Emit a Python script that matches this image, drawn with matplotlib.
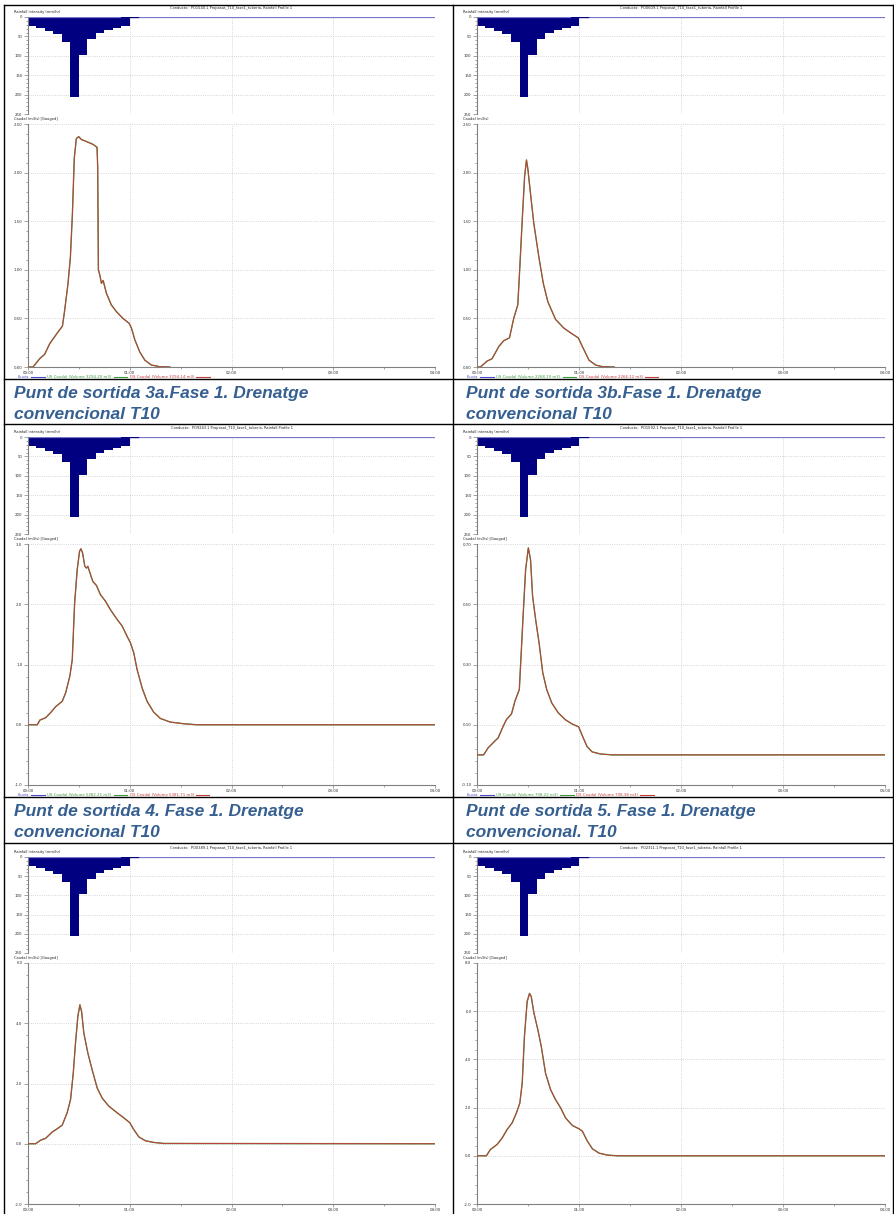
import matplotlib
matplotlib.use('Agg')
import matplotlib.pyplot as plt
from matplotlib.lines import Line2D
from matplotlib.ticker import MultipleLocator, FuncFormatter

W, H = 894, 1214

# rainfall profile (same storm in every panel), 5 minute blocks
rain_t = [0, 5, 10, 15, 20, 25, 30, 35, 40, 45, 50, 55]
rain_i = [23, 29, 36, 45, 65, 206, 97, 57, 41, 33, 28, 24]

# hydrographs, time in minutes, caudal in m3/s
t_3a = [0, 3, 6.9, 9.8, 12.8, 14.8, 17.7, 20.3, 21.6, 23.6, 25, 26.2, 27.3, 28.5, 29.9,
        31.5, 34.4, 38.4, 40.7, 41.1, 41.5, 42.3, 43.3, 44.3, 44.9, 46.2, 49.1, 52.1,
        56, 59.6, 61, 63, 65.9, 68.9, 72.8, 77.7, 83.6]
q_3a = [0, 0, 0.086, 0.13, 0.24, 0.29, 0.36, 0.42, 0.58, 0.86, 1.13, 1.58, 2.15, 2.35, 2.37,
        2.34, 2.32, 2.29, 2.26, 2.06, 1.0, 0.95, 0.86, 0.89, 0.85, 0.76, 0.64, 0.57,
        0.50, 0.45, 0.40, 0.28, 0.155, 0.07, 0.02, 0.003, 0]

t_3b = [0, 2, 5.9, 8.9, 12.8, 15.7, 19.1, 21.6, 24, 25.2, 26.6, 28, 29.1, 29.9, 31.5, 33.4,
        36.4, 39, 41.7, 46.2, 51.1, 56, 59.6, 62, 65.9, 69.8, 73.8, 80.7]
q_3b = [0, 0, 0.06, 0.086, 0.21, 0.27, 0.30, 0.50, 0.64, 1.03, 1.51, 1.96, 2.13, 2.04, 1.78,
        1.48, 1.13, 0.86, 0.67, 0.49, 0.40, 0.34, 0.30, 0.21, 0.07, 0.02, 0.003, 0]

t_4 = [0, 5.5, 7, 10.4, 13.3, 16.3, 20.2, 22.2, 24.7, 26.1, 27.5, 29, 30.4, 31.2, 32.2, 33.5,
       34.5, 35.3, 36.9, 38.2, 40.4, 42.7, 45.7, 48.6, 52.5, 55.5, 58.4, 60.4, 62.4, 64.3,
       67.3, 70.2, 74.1, 78, 83.9, 91.8, 99.6, 240]
q_4 = [0, 0, 0.077, 0.116, 0.2, 0.3, 0.39, 0.53, 0.81, 1.08, 2.02, 2.57, 2.88, 2.92, 2.85,
       2.63, 2.6, 2.63, 2.49, 2.38, 2.31, 2.16, 2.05, 1.91, 1.75, 1.64, 1.47, 1.36, 1.19,
       0.92, 0.61, 0.39, 0.21, 0.105, 0.044, 0.017, 0, 0]

t_5 = [0, 3.9, 6.5, 10.5, 12.4, 15.4, 17.4, 20.3, 22.3, 24.9, 25.8, 27.2, 28.6, 30.2, 31.5,
       32.7, 34.5, 36.5, 38.7, 41, 44, 47.9, 51.9, 55.8, 59.8, 61.7, 64.7, 67.7, 72.6, 79.5, 240]
q_5 = [0, 0, 0.023, 0.046, 0.056, 0.095, 0.118, 0.136, 0.178, 0.217, 0.316, 0.47, 0.615,
       0.687, 0.648, 0.527, 0.449, 0.372, 0.272, 0.217, 0.172, 0.139, 0.117, 0.103, 0.093,
       0.067, 0.028, 0.01, 0.003, 0, 0]

t_6 = [0, 4.5, 7.5, 10.4, 14.3, 17.3, 20.2, 23.1, 25.1, 26.7, 28, 29.4, 30.6, 31.6, 32.9,
       35.3, 37.8, 40.8, 43.7, 47.6, 52.5, 56.5, 60, 62.4, 65.3, 69.2, 74.1, 80, 240]
q_6 = [0, 0, 0.12, 0.18, 0.39, 0.5, 0.62, 1.03, 1.47, 2.35, 3.34, 4.23, 4.61, 4.39, 3.68,
       3.01, 2.46, 1.85, 1.52, 1.25, 1.03, 0.86, 0.7, 0.47, 0.23, 0.1, 0.044, 0.01, 0]

t_7 = [0, 5.5, 7.9, 11.8, 14.8, 17.7, 20.7, 23.2, 25.2, 26.6, 27.9, 29.5, 30.9, 31.9, 33.5,
       35.8, 37.8, 40.3, 43.3, 46.2, 49.2, 52.1, 56.1, 60, 62, 64.9, 67.9, 71.8, 76.7, 82.6, 240]
q_7 = [0, 0, 0.26, 0.47, 0.74, 1.09, 1.37, 1.78, 2.19, 3.02, 4.95, 6.4, 6.74, 6.61, 5.92,
       5.23, 4.54, 3.43, 2.74, 2.33, 1.99, 1.57, 1.26, 1.12, 1.02, 0.61, 0.29, 0.11, 0.03, 0, 0]

conductos = ['PO1540.1', 'PO0609.1', 'PO9243.1', 'PO1592.1', 'PO0389.1', 'PO2311.1']
# legend volumes, only the first two rows show their legend on the page
vol_us = ['3294.20', '2268.19', '5382.21', '708.22']
vol_ds = ['3294.14', '2266.12', '5381.71', '708.38']
captions = [['Punt de sortida 3a.Fase 1. Drenatge', 'convencional T10'],
            ['Punt de sortida 3b.Fase 1. Drenatge', 'convencional T10'],
            ['Punt de sortida 4. Fase 1. Drenatge', 'convencional T10'],
            ['Punt de sortida 5. Fase 1. Drenatge', 'convencional. T10']]

series_t = [t_3a, t_3b, t_4, t_5, t_6, t_7]
series_q = [q_3a, q_3b, q_4, q_5, q_6, q_7]
y_lims = [(0, 2.5), (0, 2.5), (-1, 3), (-0.1, 0.7), (-2, 6), (-2, 8)]
y_steps = [0.5, 0.5, 1.0, 0.2, 2.0, 2.0]
y_offs = [0, 0, 0, 0.1, 0, 0]
y_fmts = ['%.2f', '%.2f', '%.1f', '%.2f', '%.1f', '%.1f']
y_names = ['Caudal (m3/s) [Gauged]', 'Caudal (m3/s)', 'Caudal (m3/s) [Gauged]',
           'Caudal (m3/s) [Gauged]', 'Caudal (m3/s) [Gauged]', 'Caudal (m3/s) [Gauged]']

# page layout in pixels
col_x = [(28, 435), (477, 885)]
row_y = [(17, 114, 124, 367), (437, 534, 544, 785), (857, 953, 963, 1204)]
small = 2.8
grey = '#808080'
grid_c = '#c8c8c8'
c_rain = '#000080'
c_line = '#7777c8'
c_us = '#3c9a3c'
c_ds = '#c83c3c'


def rect(x0, y0, x1, y1):
    return [x0 / W, 1 - y1 / H, (x1 - x0) / W, (y1 - y0) / H]


def hhmm(v, p):
    v = int(round(v))
    return '%02d:%02d' % (v // 60, v % 60)


def style(ax):
    for s in ['top', 'right']:
        ax.spines[s].set_visible(False)
    ax.spines['left'].set_color(grey)
    ax.spines['left'].set_linewidth(0.8)
    ax.spines['bottom'].set_color(grey)
    ax.spines['bottom'].set_linewidth(0.8)
    ax.tick_params(which='major', length=3, width=0.5, color=grey, labelsize=small,
                   labelcolor='#333333', pad=1)
    ax.tick_params(which='minor', length=1.5, width=0.5, color=grey)
    ax.grid(True, which='major', color=grid_c, linestyle=':', linewidth=0.6)
    ax.set_facecolor('white')


fig = plt.figure(figsize=(W / 100, H / 100), dpi=100)
fig.patch.set_facecolor('white')

for i in range(6):
    r, c = i // 2, i % 2
    x0, x1 = col_x[c]
    ry0, ry1, hy0, hy1 = row_y[r]

    # rainfall hyetograph
    ar = fig.add_axes(rect(x0, ry0, x1, ry1))
    style(ar)
    ar.spines['bottom'].set_visible(False)
    ar.bar(rain_t, rain_i, width=5, align='edge', color=c_rain, linewidth=0, zorder=2)
    ar.plot([0, 240], [0, 0], color=c_line, lw=0.9, zorder=3)
    ar.plot([55, 65], [0, 0], color=c_rain, lw=0.9, zorder=3)
    ar.set_xlim(0, 240)
    ar.set_ylim(250, 0)
    ar.set_yticks([0, 50, 100, 150, 200, 250])
    ar.yaxis.set_minor_locator(MultipleLocator(10))
    ar.xaxis.set_major_locator(MultipleLocator(60))
    ar.tick_params(axis='x', which='both', length=0, labelbottom=False)

    fig.text((x0 + x1) / 2 / W, 1 - 8 / H - (ry0 - 17) / H,
             'Conducto:  %s Proposat_T10_fase1_tuberia, Rainfall Profile 1' % conductos[i],
             fontsize=small - 0.2, ha='center', va='center', color='#222222')
    fig.text((x0 - 14) / W, 1 - (ry0 - 5) / H, 'Rainfall intensity (mm/hr)',
             fontsize=small - 0.2, ha='left', va='center', color='#222222')

    # hydrograph, US under DS
    ah = fig.add_axes(rect(x0, hy0, x1, hy1))
    style(ah)
    ah.tick_params(axis='x', which='major', length=2.5, pad=0.5)
    ah.plot(series_t[i], series_q[i], color=c_us, lw=1.0, zorder=3)
    ah.plot(series_t[i], series_q[i], color=c_ds, lw=0.7, zorder=4)
    lo, hi = y_lims[i]
    ah.set_xlim(0, 240)
    ah.set_ylim(lo, hi)
    ah.yaxis.set_major_locator(MultipleLocator(y_steps[i], offset=y_offs[i]))
    ah.yaxis.set_minor_locator(MultipleLocator(y_steps[i] / 5, offset=y_offs[i]))
    ah.yaxis.set_major_formatter(FuncFormatter(lambda v, p, f=y_fmts[i]: f % v))
    ah.xaxis.set_major_locator(MultipleLocator(60))
    ah.xaxis.set_minor_locator(MultipleLocator(30))
    ah.xaxis.set_major_formatter(FuncFormatter(hhmm))
    fig.text((x0 - 14) / W, 1 - (hy0 - 5) / H, y_names[i],
             fontsize=small - 0.2, ha='left', va='center', color='#222222')

    if i < len(vol_us):
        handles = [Line2D([], [], color='#4a4ad0', lw=0.8),
                   Line2D([], [], color=c_us, lw=0.8),
                   Line2D([], [], color=c_ds, lw=0.8)]
        labels = ['Lluvia', 'US Caudal (Volume %s m3)' % vol_us[i],
                  'DS Caudal (Volume %s m3)' % vol_ds[i]]
        ah.legend(handles, labels, loc='upper left', ncol=3, frameon=False,
                  bbox_to_anchor=((x0 - 10) / W, 1 - (hy1 + 8.5) / H),
                  bbox_transform=fig.transFigure, fontsize=small, markerfirst=False,
                  labelcolor='linecolor', handlelength=3.5, handletextpad=0.5,
                  columnspacing=0.6, borderpad=0, borderaxespad=0)

# captions between chart rows
cap_rows = [379, 797]
for k, cap in enumerate(captions):
    r, c = k // 2, k % 2
    x = 14 if c == 0 else 466
    for j, line in enumerate(cap):
        fig.text(x / W, 1 - (cap_rows[r] + 19 + 21 * j) / H, line, fontsize=12.5,
                 fontweight='bold', fontstyle='italic', family='Liberation Sans',
                 color='#365F91', ha='left', va='baseline')

# table borders
lw = 1.0
for y in [5, 379, 424, 797, 843]:
    fig.add_artist(Line2D([4 / W, 893 / W], [1 - y / H, 1 - y / H], color='black', lw=lw))
for x in [4, 453, 893]:
    fig.add_artist(Line2D([x / W, x / W], [1 - 5 / H, 0], color='black', lw=lw))

fig.savefig('out.png', dpi=100)
